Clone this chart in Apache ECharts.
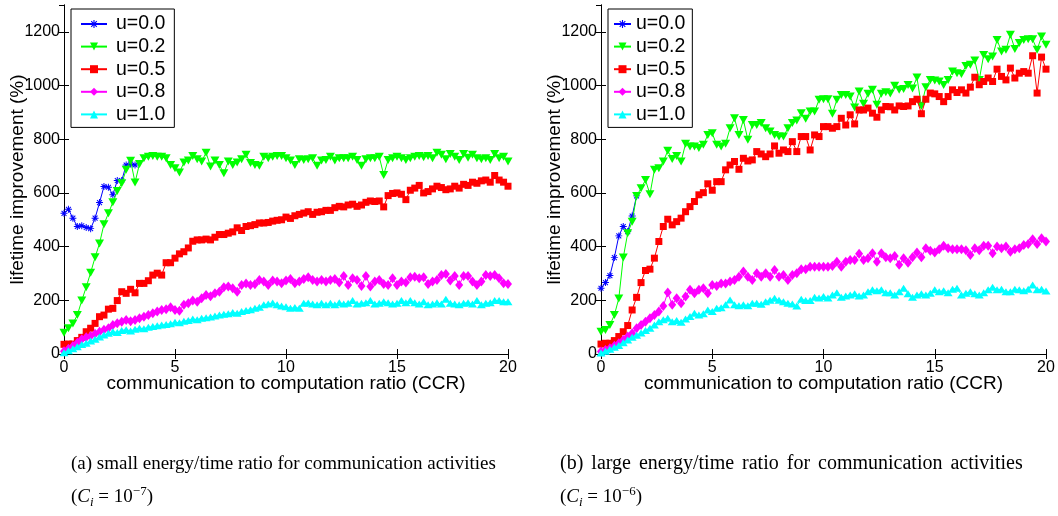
<!DOCTYPE html>
<html>
<head>
<meta charset="utf-8">
<script src="https://cdn.jsdelivr.net/npm/echarts@6/dist/echarts.min.js"></script>
<style>
  html, body { margin: 0; padding: 0; background: #fff; }
  #chart { width: 1058px; height: 516px; }
</style>
</head>
<body>
<div id="chart"></div>
<script>
// CCR sample points (x axis)
const ccr = [0,0.2,0.4,0.6,0.8,1,1.2,1.4,1.6,1.8,2,2.2,2.4,2.6,2.8,3,3.2,3.4,3.6,3.8,4,4.2,4.4,4.6,4.8,5,5.2,5.4,5.6,5.8,6,6.2,6.4,6.6,6.8,7,7.2,7.4,7.6,7.8,8,8.2,8.4,8.6,8.8,9,9.2,9.4,9.6,9.8,10,10.2,10.4,10.6,10.8,11,11.2,11.4,11.6,11.8,12,12.2,12.4,12.6,12.8,13,13.2,13.4,13.6,13.8,14,14.2,14.4,14.6,14.8,15,15.2,15.4,15.6,15.8,16,16.2,16.4,16.6,16.8,17,17.2,17.4,17.6,17.8,18,18.2,18.4,18.6,18.8,19,19.2,19.4,19.6,19.8,20];

const seriesNames = ['u=0.0', 'u=0.2', 'u=0.5', 'u=0.8', 'u=1.0'];
const xTicks = [0, 5, 10, 15, 20];
const yTicks = [0, 200, 400, 600, 800, 1000, 1200];

// (a) small energy/time ratio, C_i = 1e-7
const smallU00 = [524,539,506,475,478,471,467,506,564,624,621,593,646,646,704,708,704];
const smallU02 = [79,96,114,145,199,249,303,360,412,483,524,565,607,636,686,720,639,
  708,729,735,738,735,735,729,704,692,676,713,721,738,725,717,750,698,721,704,673,
  717,704,713,725,742,711,704,701,735,729,735,738,738,729,721,704,725,723,725,729,
  701,721,723,735,721,729,729,729,735,723,701,725,729,729,735,667,723,729,735,729,
  723,729,735,738,733,738,729,750,742,725,745,735,723,745,731,742,729,725,729,723,
  745,729,735,717];
const smallU05 = [36,37,37,50,62,83,96,114,139,145,167,170,199,232,226,241,228,263,263,273,
  294,301,294,340,340,357,373,381,395,420,425,425,428,425,435,445,445,450,455,470,
  460,475,478,482,488,488,490,495,498,500,510,505,515,520,525,530,520,528,530,535,
  535,545,550,548,555,558,550,555,565,570,568,570,548,590,598,600,595,575,610,618,
  628,600,605,615,625,620,612,615,625,618,632,628,640,636,645,648,640,665,648,640,625];
const smallU08 = [10,20,30,42,55,62,67,75,83,90,96,108,115,120,127,122,127,133,139,145,
  152,158,164,167,174,164,161,183,189,199,195,208,220,215,226,232,249,251,245,232,
  257,263,257,260,276,
  270,257,274,270,264,274,279,264,270,279,286,276,270,276,270,276,279,266,291,257,
  282,276,253,291,251,270,276,261,257,282,257,270,266,286,288,282,286,261,270,276,
  294,298,274,291,257,291,291,270,257,270,294,291,294,282,264,261];
const smallU10 = [5,12,20,27,35,40,48,55,63,71,77,83,80,88,90,86,92,96,94,100,
  102,105,108,110,113,118,116,122,125,130,128,133,135,138,142,145,148,150,155,152,
  158,162,165,170,174,
  183,186,190,183,179,176,170,173,170,189,190,186,183,189,183,189,183,191,186,189,
  199,186,189,191,199,186,189,195,191,186,189,199,191,199,191,186,195,183,186,191,
  186,204,189,186,183,189,191,186,199,183,189,191,199,199,195,195];

// (b) large energy/time ratio, C_i = 1e-6
const largeU00 = [245,266,292,359,440,475,456,514,589];
const largeU02 = [83,89,108,145,207,359,450,493,589,617,648,595,686,692,717,757,726,738,717,783,
  773,773,767,779,816,822,779,773,783,841,878,816,872,798,853,853,860,841,829,816,
  810,810,841,860,870,
  897,876,903,903,947,949,949,895,947,965,965,959,918,978,932,969,984,928,969,975,
  970,999,984,987,1002,989,1030,924,994,1021,1019,1015,1002,1021,1052,1046,1043,1073,1077,1093,
  1021,1114,1098,1108,1170,1127,1133,1189,1136,1158,1170,1172,1172,1133,1183,1152];
const largeU05 = [37,40,40,50,65,83,106,164,211,266,311,316,357,419,475,502,481,493,506,530,
  549,568,593,601,634,610,642,642,686,704,717,688,729,719,723,754,745,735,745,775,
  748,760,754,791,754,
  810,810,760,816,810,847,847,841,847,878,853,891,857,909,909,916,897,882,909,922,
  921,909,924,922,924,940,949,895,949,972,969,959,940,959,984,974,984,972,994,1031,
  1003,1015,1028,1015,1061,1034,1021,1065,1028,1046,1052,1046,1111,972,1106,1061];
const largeU08 = [9,15,21,31,40,52,65,77,96,108,120,133,145,158,179,229,183,208,189,214,
  239,226,239,245,226,257,253,263,263,270,276,288,307,288,276,301,288,301,288,313,
  288,294,276,294,
  301,316,316,325,325,325,325,325,328,344,325,344,350,350,373,350,357,375,344,375,
  360,357,365,332,357,340,360,378,360,394,385,378,390,403,394,390,390,390,386,369,
  394,386,403,403,375,400,394,400,381,390,394,406,410,427,410,431,419];
const largeU10 = [4,10,18,25,32,42,52,62,70,78,88,96,108,120,128,133,120,125,118,130,
  140,152,145,150,164,158,170,172,183,201,183,180,183,180,189,189,185,195,200,208,
  200,195,189,186,
  179,204,199,199,211,209,214,209,220,228,211,216,220,224,216,220,232,239,236,239,
  228,228,220,232,245,224,211,220,224,220,226,239,232,236,228,241,245,220,226,232,
  224,220,228,239,249,239,241,232,232,241,239,236,241,257,239,241,235];

const colors = ['#0000ff', '#00ff00', '#ff0000', '#ff00ff', '#00ffff'];
const asterisk = 'path://M-0.14,-1H0.14V1H-0.14Z M-1,-0.14H1V0.14H-1Z M-0.8,-0.6L-0.6,-0.8L0.8,0.6L0.6,0.8Z M0.6,-0.8L0.8,-0.6L-0.6,0.8L-0.8,0.6Z';
const symbols = [
  { symbol: asterisk, size: 7, rotate: 0 },
  { symbol: 'triangle', size: [9, 8], rotate: 180 },
  { symbol: 'rect', size: 7, rotate: 0 },
  { symbol: 'diamond', size: [8, 10], rotate: 0 },
  { symbol: 'triangle', size: [9, 7], rotate: 0 }
];

const chart = echarts.init(document.getElementById('chart'));

const sansFont = 'Liberation Sans, Arial, Helvetica, sans-serif';
const serifFont = 'Liberation Serif, Times New Roman, serif';

const panels = [
  { left: 64, width: 444, data: [smallU00, smallU02, smallU05, smallU08, smallU10] },
  { left: 601, width: 445, data: [largeU00, largeU02, largeU05, largeU08, largeU10] }
];

const tickStyle = { inside: true, length: 5, lineStyle: { color: '#000', width: 1 } };
const lineStyle = { show: true, lineStyle: { color: '#000', width: 1 } };

const grid = [];
const xAxis = [];
const yAxis = [];
const series = [];

panels.forEach((p, pi) => {
  grid.push({ left: p.left, top: 5, width: p.width, height: 349, containLabel: false });
  // bottom and top x axes
  xAxis.push({
    gridIndex: pi, type: 'value', min: xTicks[0], max: xTicks[xTicks.length - 1], interval: 5,
    position: 'bottom', axisLine: lineStyle, axisTick: tickStyle, splitLine: { show: false },
    axisLabel: { color: '#000', fontSize: 16, fontFamily: sansFont, margin: 6, formatter: v => String(v) },
    name: 'communication to computation ratio (CCR)', nameLocation: 'middle', nameGap: 20,
    nameMoveOverlap: false,
    nameTextStyle: { color: '#000', fontSize: 19, fontFamily: sansFont }
  });
  xAxis.push({
    gridIndex: pi, type: 'value', min: xTicks[0], max: xTicks[xTicks.length - 1], interval: 5,
    position: 'top', axisLine: lineStyle, axisTick: tickStyle, splitLine: { show: false },
    axisLabel: { show: false }
  });
  yAxis.push({
    gridIndex: pi, type: 'value', min: yTicks[0], max: 1300, interval: 200,
    position: 'left', axisLine: lineStyle, axisTick: tickStyle, splitLine: { show: false },
    axisLabel: { color: '#000', fontSize: 16, fontFamily: sansFont, margin: 4, showMaxLabel: false,
      formatter: v => (v > yTicks[yTicks.length - 1] ? '' : String(v)) },
    name: 'lifetime improvement (%)', nameLocation: 'middle', nameGap: 37,
    nameMoveOverlap: false,
    nameTextStyle: { color: '#000', fontSize: 19, fontFamily: sansFont }
  });
  yAxis.push({
    gridIndex: pi, type: 'value', min: yTicks[0], max: 1300, interval: 200,
    position: 'right', axisLine: lineStyle, axisTick: tickStyle, splitLine: { show: false },
    axisLabel: { show: false }
  });

  p.data.forEach((vals, si) => {
    const sym = symbols[si];
    series.push({
      name: seriesNames[si],
      type: 'line',
      xAxisIndex: pi * 2,
      yAxisIndex: pi * 2,
      data: vals.map((v, i) => [ccr[i], v]),
      symbol: sym.symbol,
      symbolSize: sym.size,
      symbolRotate: sym.rotate,
      showSymbol: true,
      showAllSymbol: true,
      lineStyle: { color: colors[si], width: 1 },
      itemStyle: { color: colors[si] },
      emphasis: { disabled: true },
      silent: true,
      z: 2 + si
    });
  });
});

const legendBase = {
  orient: 'vertical',
  top: 9,
  data: seriesNames,
  backgroundColor: '#fff',
  borderColor: '#000',
  borderWidth: 1,
  borderRadius: 0,
  itemHeight: 10,
  itemGap: 2.6,
  selectedMode: false,
  textStyle: { color: '#000', fontSize: 19.5, fontFamily: sansFont, lineHeight: 20 }
};

const legend = [
  Object.assign({}, legendBase, {
    left: 71, itemWidth: 26, padding: [5, 9, 3, 9],
    textStyle: Object.assign({}, legendBase.textStyle, { padding: [0, 0, 0, 4] })
  }),
  Object.assign({}, legendBase, {
    left: 608, itemWidth: 17, padding: [5, 7, 3, 5]
  })
];

const captionStyle = {
  fontSize: 19,
  fontFamily: serifFont,
  fill: '#000'
};
const formulaRich = {
  it: { fontStyle: 'italic', fontSize: 19, fontFamily: serifFont },
  sub: { fontStyle: 'italic', fontSize: 13, fontFamily: serifFont, verticalAlign: 'bottom', lineHeight: 12 },
  sup: { fontSize: 13, fontFamily: serifFont, verticalAlign: 'top', lineHeight: 12 }
};
// caption (b) runs a little wider in the reference
const wideGapRich = { g: { width: 8, fontSize: 20, fontFamily: serifFont } };

const graphic = [
  { type: 'text', left: 71, top: 455, style: Object.assign({ text: '(a) small energy/time ratio for communication activities' }, captionStyle) },
  { type: 'text', left: 71, top: 485, style: Object.assign({ text: '({it|C}{sub|i} = 10{sup|\u22127})', rich: formulaRich, lineHeight: 24 }, captionStyle) },
  { type: 'text', left: 560, top: 454, style: Object.assign({}, captionStyle, {
      text: '(b){g| }large{g| }energy/time{g| }ratio{g| }for{g| }communication{g| }activities',
      fontSize: 20, rich: wideGapRich }) },
  { type: 'text', left: 560, top: 485, style: Object.assign({ text: '({it|C}{sub|i} = 10{sup|\u22126})', rich: formulaRich, lineHeight: 24 }, captionStyle) }
];

chart.setOption({
  animation: false,
  backgroundColor: '#fff',
  grid: grid,
  xAxis: xAxis,
  yAxis: yAxis,
  legend: legend,
  series: series,
  graphic: graphic
});
</script>
</body>
</html>
